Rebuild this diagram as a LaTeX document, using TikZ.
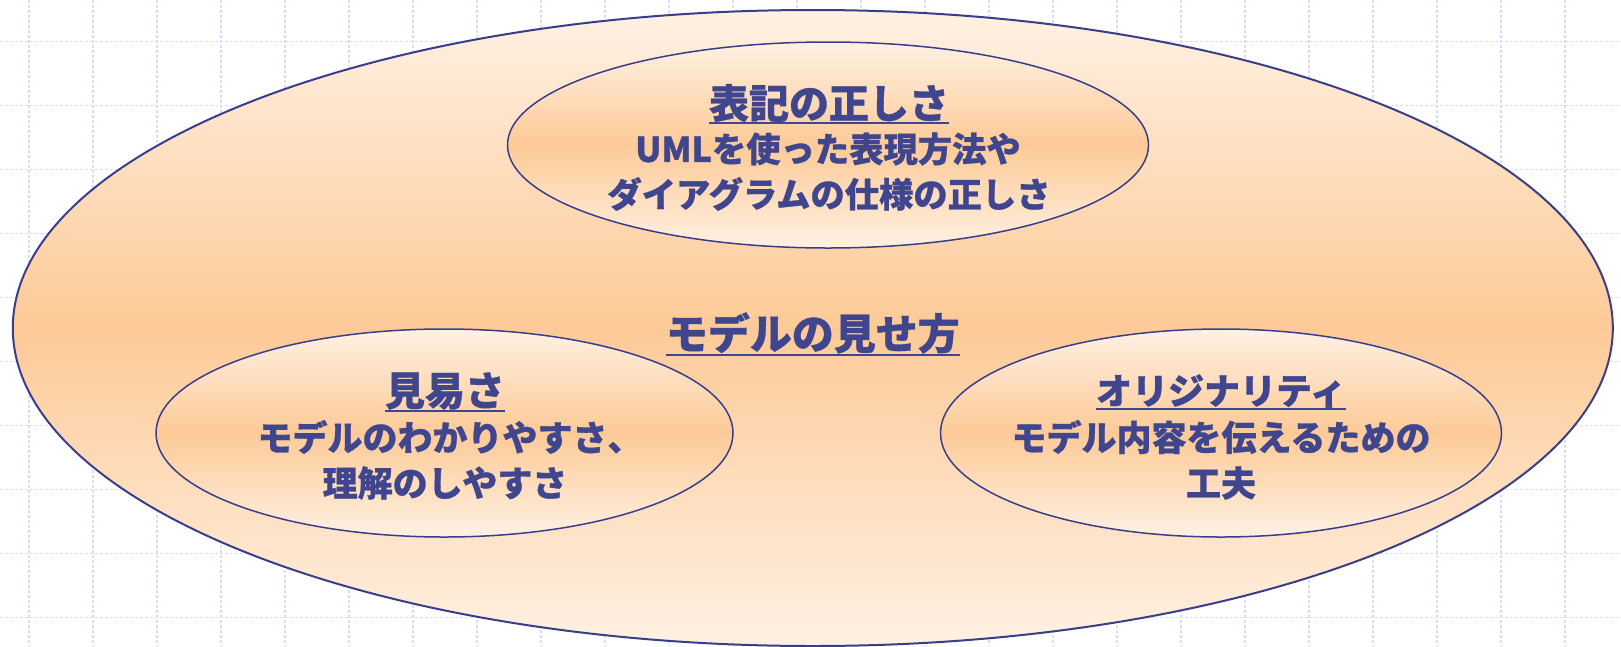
\documentclass[tikz,border=0pt]{standalone}
\usepackage{fontspec}
\newfontfamily\jpfont{Noto Sans CJK JP}[BoldFeatures={FakeBold=0.8}]
\usetikzlibrary{shapes.geometric}
\definecolor{ink}{RGB}{64,70,142}
\definecolor{edgec}{RGB}{58,62,138}
\definecolor{peachlight}{RGB}{255,241,227}
\definecolor{peach}{RGB}{253,202,151}
\definecolor{gridc}{RGB}{216,222,248}
\tikzset{
  gridline/.style={draw=gridc, line width=1.5pt, dash pattern=on 3pt off 2pt},
  bubble/.style={ellipse, inner sep=0pt, draw=edgec, line width=1.5pt,
    top color=peachlight, bottom color=peachlight, middle color=peach},
  titletext/.style={font=\jpfont\bfseries\fontsize{40}{48}\selectfont, text=ink, inner sep=0pt},
  maintext/.style={font=\jpfont\bfseries\fontsize{42}{50}\selectfont, text=ink, inner sep=0pt},
  bodytext/.style={font=\jpfont\bfseries\fontsize{35}{40}\selectfont, text=ink, inner sep=0pt},
  uline/.style={draw=ink, line width=2.2pt}
}
\begin{document}
\begin{tikzpicture}[x=1pt,y=-1pt]
\useasboundingbox (0,0) rectangle (1621,646);
\clip (0,0) rectangle (1621,646);
\fill[white] (0,0) rectangle (1621,646);
\foreach \x in {29,93,...,1629} \draw[gridline] (\x,0) -- (\x,646);
\foreach \y in {41.5,105.5,...,650} \draw[gridline] (0,\y) -- (1621,\y);
% outer ellipse
\node[bubble, line width=2pt, minimum width=1600pt, minimum height=636pt] (outer) at (812.8,328) {};
% inner ellipses
\node[bubble, minimum width=641pt, minimum height=206pt] (top) at (828,145) {};
\node[bubble, minimum width=577pt, minimum height=208pt] (left) at (444.5,433) {};
\node[bubble, minimum width=561pt, minimum height=208pt] (right) at (1221,433) {};
% center title
\node[maintext] (mtitle) at (812.8,333) {モデルの見せ方};
\draw[uline] ([yshift=-1pt]mtitle.south west) -- ([yshift=-1pt]mtitle.south east);
% top
\node[titletext] (ttitle) at (829,103) {表記の正しさ};
\draw[uline] ([yshift=-1pt]ttitle.south west) -- ([yshift=-1pt]ttitle.south east);
\node[bodytext, font=\jpfont\bfseries\fontsize{34.3}{40}\selectfont] (tl1) at (828,149) {UMLを使った表現方法や};
\node[bodytext, font=\jpfont\bfseries\fontsize{34.3}{40}\selectfont] (tl2) at (829,194) {ダイアグラムの仕様の正しさ};
% left
\node[titletext] (ltitle) at (445,391) {見易さ};
\draw[uline] ([yshift=-1pt]ltitle.south west) -- ([yshift=-1pt]ltitle.south east);
\node[bodytext] (ll1) at (450,437) {モデルのわかりやすさ、};
\node[bodytext] (ll2) at (445,483) {理解のしやすさ};
% right
\node[titletext, font=\jpfont\bfseries\fontsize{36}{44}\selectfont] (rtitle) at (1221,391) {オリジナリティ};
\draw[uline] ([yshift=-1pt]rtitle.south west) -- ([yshift=-1pt]rtitle.south east);
\node[bodytext] (rl1) at (1221,437) {モデル内容を伝えるための};
\node[bodytext] (rl2) at (1221,483) {工夫};
\end{tikzpicture}
\end{document}
